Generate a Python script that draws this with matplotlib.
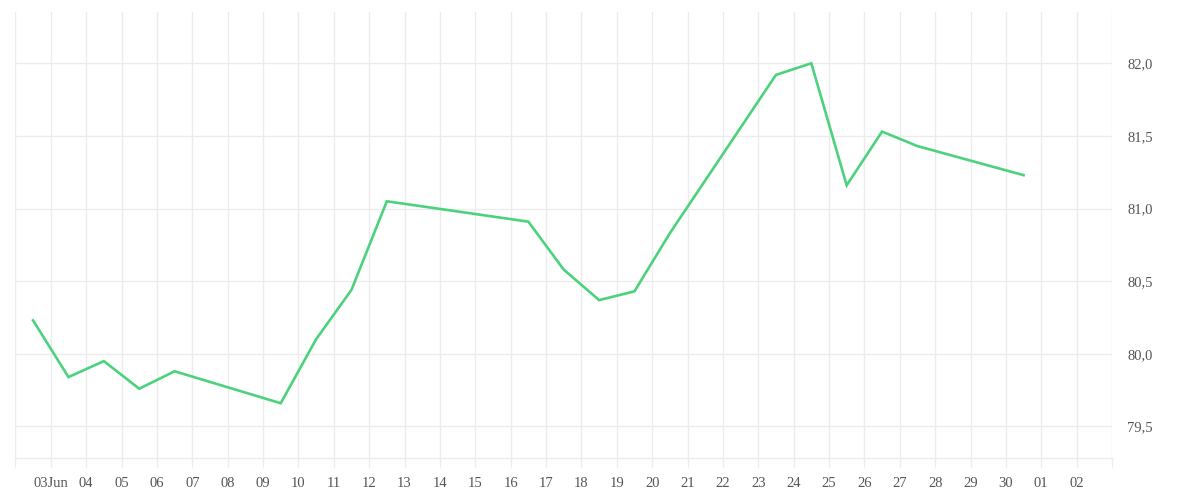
# -*- coding: utf-8 -*-
"""
日次終値の折れ線グラフ (2025年6月) を out.png に出力する。
"""

import matplotlib
matplotlib.use("Agg")
import matplotlib.pyplot as plt
import matplotlib.dates as mdates
import matplotlib.ticker as mticker
import numpy as np

# 各営業日の値 (チャート上では正午にプロットされている)
dates = ["2025-06-02", "2025-06-03", "2025-06-04", "2025-06-05", "2025-06-06",
         "2025-06-09", "2025-06-10", "2025-06-11", "2025-06-12",
         "2025-06-16", "2025-06-17", "2025-06-18", "2025-06-19", "2025-06-20",
         "2025-06-23", "2025-06-24", "2025-06-25", "2025-06-26", "2025-06-27",
         "2025-06-30"]
values = [80.23, 79.84, 79.95, 79.76, 79.88,
          79.66, 80.10, 80.44, 81.05,
          80.91, 80.58, 80.37, 80.43, 80.83,
          81.92, 82.00, 81.16, 81.53, 81.43,
          81.23]

y_ticks = [79.5, 80.0, 80.5, 81.0, 81.5, 82.0]
x_start, x_end = "2025-06-02", "2025-07-03"

LINE_COLOR = "#4cd27c"
GRID_COLOR = "#ececec"
TEXT_COLOR = "#555555"

plt.rcParams["font.family"] = ["Liberation Serif", "DejaVu Serif"]

x = np.array(dates, dtype="datetime64[D]") + np.timedelta64(12, "h")
x = mdates.date2num(x.astype("datetime64[ms]").astype(object))

fig = plt.figure(figsize=(12, 5), dpi=100)
ax = fig.add_axes([15.4 / 1200, 1 - 458 / 500, (1112 - 15.4) / 1200, (458 - 12) / 500])

ax.plot(x, values, color=LINE_COLOR, lw=1.9, solid_joinstyle="miter")

# x 軸: 毎日の目盛り、端の2本はラベルなし
day_ticks = mdates.drange(np.datetime64(x_start).astype(object),
                          np.datetime64(x_end).astype(object) + np.timedelta64(1, "D").astype(object),
                          np.timedelta64(1, "D").astype(object))
ax.set_xlim(day_ticks[0], day_ticks[-1])
ax.set_xticks(day_ticks)


def fmt_day(v, pos):
    if pos == 0 or pos == len(day_ticks) - 1:
        return ""
    d = mdates.num2date(v)
    return d.strftime("%d%b") if pos == 1 else d.strftime("%d")


ax.xaxis.set_major_formatter(mticker.FuncFormatter(fmt_day))

# y 軸: 右側、小数点はカンマ
ax.set_ylim(79.283, 82.353)
ax.set_yticks(y_ticks)
ax.yaxis.tick_right()
ax.yaxis.set_major_formatter(mticker.FuncFormatter(lambda v, p: f"{v:.1f}".replace(".", ",")))

ax.grid(True, color=GRID_COLOR, lw=1.0)
ax.set_axisbelow(True)
for side in ("top", "left", "right"):
    ax.spines[side].set_visible(False)
ax.spines["bottom"].set_color(GRID_COLOR)
ax.spines["bottom"].set_linewidth(1.0)

ax.tick_params(axis="x", direction="out", length=6.8, width=1.0, color=GRID_COLOR,
               labelsize=10.5, labelcolor=TEXT_COLOR, pad=7)
ax.tick_params(axis="y", length=0, labelsize=10.5, labelcolor=TEXT_COLOR, pad=11)

fig.savefig("out.png", dpi=100)
plt.close(fig)
